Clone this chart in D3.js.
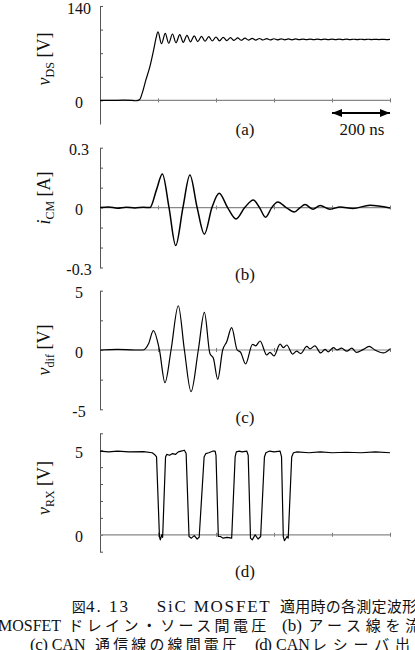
<!DOCTYPE html>
<html><head><meta charset="utf-8">
<script src="https://cdn.jsdelivr.net/npm/d3@7"></script>
<style>
body{margin:0;background:#fff;}
svg{display:block;}
text{font-family:"Liberation Serif","Noto Sans CJK JP",serif;fill:#111;}
</style>
</head><body>
<svg id="c" width="415" height="650"></svg>
<script>
// ---------- data ----------
const timeTicks = [0, 200, 400, 600, 800, 1000];

// (a) v_DS [V]
const vdsTime  = [0, 40, 80, 110, 125, 131, 138, 145, 158, 172, 185, 193, 200,
  212, 225, 237, 250, 262, 275, 287, 300, 312, 325, 337, 350, 362, 375, 387, 400,
  412, 425, 437, 450, 462, 475, 487, 500, 512, 525, 537, 550, 562, 575, 587, 600,
  612, 625, 637, 650, 662, 675, 687, 700, 712, 725, 737, 750, 762, 775, 787, 800,
  812, 825, 837, 850, 862, 875, 887, 900, 912, 925, 937, 950, 962, 975, 987, 1000];
const vdsValue = [0, 0, 0.3, 0, -0.5, 0, 2, 10, 30, 50, 75, 92, 101.5,
  84, 99.5, 84.8, 98.5, 85.5, 97.5, 86.2, 96.5, 86.8, 95.8, 87.3, 95, 87.7, 94.5, 88.1, 94,
  88.4, 93.5, 88.7, 93, 89, 92.6, 89.2, 92.3, 89.4, 92, 89.5, 91.8, 89.6, 91.6, 89.7, 91.4,
  89.8, 91.3, 89.9, 91.2, 89.9, 91.1, 90, 91, 90, 91, 90, 90.9, 90, 90.9, 90.1, 90.8,
  90.1, 90.8, 90.1, 90.8, 90.1, 90.7, 90.2, 90.7, 90.2, 90.7, 90.2, 90.6, 90.2, 90.6, 90.2, 90.5];
const vdsTickValues = [0, 35, 70, 105, 140];
const vdsTickLabels = ["140", "0"];
const vdsLabelValues = [140, 0];

// (b) i_CM [A]
const icmTime  = [0, 30, 60, 90, 120, 150, 172, 195, 215, 238, 261, 286, 310, 335, 360,
  386, 411, 440, 469, 499, 529, 550, 571, 592, 613, 642, 670, 690, 707, 734, 759, 793, 828, 872, 931, 1000];
const icmValue = [0, 0.003, -0.003, 0.002, -0.002, 0.002, 0, 0.09, 0.168, 0, -0.19, 0, 0.163, 0, -0.133,
  0, 0.072, 0, -0.057, 0, 0.038, 0, -0.048, 0, 0.028, 0, -0.022, 0, 0.015, -0.008, 0.01, -0.008, 0.003, -0.005, 0.012, -0.002];
const icmTickValues = [-0.3, -0.2, -0.1, 0, 0.1, 0.2, 0.3];
const icmTickLabels = ["0.3", "0", "-0.3"];
const icmLabelValues = [0.3, 0, -0.3];

// (c) v_dif [V]
const vdifTime  = [0, 60, 120, 149, 167, 184, 205, 224, 245, 270, 291, 314, 339, 360, 379, 391, 406,
  423, 437, 454, 473, 485, 502, 526, 537, 552, 575, 586, 600, 621, 632, 644, 664, 678, 692,
  713, 724, 741, 761, 776, 787, 805, 818, 833, 851, 868, 885, 908, 928, 948, 977, 1000];
const vdifValue = [0, 0.05, 0, 0, 0.5, 1.63, 0, -2.75, 0, 3.73, 0, -3.51, 0, 3.17, -0.3, -0.7, -2.47,
  0, 0.7, 1.88, 0, -0.2, -1.18, 0.48, 0.35, 0.76, -0.42, -0.2, -0.5, 0.5, 0.2, 0.42, -0.34, -0.1, -0.3,
  0.3, 0.1, 0.35, -0.25, 0.05, -0.15, 0.2, 0, 0.15, -0.1, 0.15, -0.2, 0.05, 0.3, 0, -0.25, 0.1];
const vdifTickValues = [-5, -2.5, 0, 2.5, 5];
const vdifTickLabels = ["5", "0", "-5"];
const vdifLabelValues = [5, 0, -5];

// (d) v_RX [V]
const vrxTime  = [0, 30, 60, 100, 150, 180, 188, 195, 205, 208, 213, 216, 226, 230, 240, 250, 260, 270, 280, 291,
  297, 307, 315, 325, 335, 342, 359, 365, 375, 390, 397, 400, 408, 415, 425, 438, 454,
  466, 470, 480, 490, 506, 511, 519, 525, 535, 545, 554, 567, 572, 585, 600, 621,
  626, 632, 636, 645, 649, 661, 667, 680, 720, 760, 800, 850, 900, 950, 1000];
const vrxValue = [4.95, 4.9, 4.95, 4.9, 4.92, 4.85, 4.75, 4.6, -0.1, -0.3, 0, -0.15, 4.6, 4.75, 4.7, 4.8, 4.75, 4.9, 4.95, 5.0,
  4.8, -0.1, -0.2, -0.05, -0.25, -0.15, 4.6, 4.8, 4.85, 4.95, 4.95, 4.7, -0.1, -0.1, -0.2, -0.15, -0.2,
  4.6, 4.9, 4.95, 4.9, 4.95, 4.7, -0.2, -0.3, 0, -0.25, -0.1, 4.6, 4.85, 4.95, 4.9, 4.95,
  4.6, -0.1, -0.35, -0.1, -0.2, 4.6, 4.85, 4.9, 4.85, 4.9, 4.85, 4.88, 4.85, 4.9, 4.85];
const vrxTickValues = [-1, 0, 1, 2, 3, 4, 5, 6];
const vrxTickLabels = ["5", "0"];
const vrxLabelValues = [5, 0];

const panelTags = ["(a)", "(b)", "(c)", "(d)"];
const scaleText = "200 ns";

// ---------- drawing ----------
const svg = d3.select("#c");
const x = d3.scaleLinear().domain([0, 1000]).range([100, 390]);

const panels = [
  {time: vdsTime, val: vdsValue, dom: [-35, 140], rng: [124, 6], ticks: vdsTickValues, lv: vdsLabelValues, lt: vdsTickLabels,
   lab: ["v", "DS", " [V]"], labY: 59, tagY: 135, curve: d3.curveMonotoneX, sw: 1.2},
  {time: icmTime, val: icmValue, dom: [-0.3, 0.3], rng: [267.5, 147.7], ticks: icmTickValues, lv: icmLabelValues, lt: icmTickLabels,
   lab: ["i", "CM", " [A]"], labY: 198, tagY: 280, curve: d3.curveMonotoneX, sw: 1.5},
  {time: vdifTime, val: vdifValue, dom: [-5, 5], rng: [409.3, 290.7], ticks: vdifTickValues, lv: vdifLabelValues, lt: vdifTickLabels,
   lab: ["v", "dif", " [V]"], labY: 350, tagY: 423, curve: d3.curveMonotoneX, sw: 1.2},
  {time: vrxTime, val: vrxValue, dom: [-1, 6], rng: [551.7, 433.3], ticks: vrxTickValues, lv: vrxLabelValues, lt: vrxTickLabels,
   lab: ["v", "RX", " [V]"], labY: 488, tagY: 577, curve: d3.curveLinear, sw: 1.2}
];

panels.forEach((p, i) => {
  const y = d3.scaleLinear().domain(p.dom).range(p.rng);
  const g = svg.append("g");
  const y0 = y(0);

  // y axis
  const ya = d3.axisRight(y).tickValues(p.ticks).tickSize(3).tickSizeOuter(0).tickFormat("");
  const yg = g.append("g").attr("transform", "translate(100,0)").call(ya);
  yg.selectAll("path,line").attr("stroke", "#555").attr("stroke-width", 1);

  // x axis along zero
  const xa = d3.axisBottom(x).tickValues(timeTicks.slice(1)).tickSize(4).tickSizeOuter(0).tickFormat("");
  const xg = g.append("g").attr("transform", `translate(0,${y0 - 2})`).call(xa);
  xg.select(".domain").remove();
  xg.selectAll("line").attr("stroke", "#777").attr("stroke-width", 1);
  g.append("line").attr("x1", x(0)).attr("x2", x(1000)).attr("y1", y0).attr("y2", y0)
    .attr("stroke", "#888").attr("stroke-width", 1.2);

  // tick labels
  g.selectAll("text.tl").data(p.lv).enter().append("text").attr("class", "tl")
    .attr("x", 79).attr("y", d => y(d) + 7.5).attr("text-anchor", "middle")
    .attr("font-size", 16).text((d, k) => p.lt[k]);

  // signal
  const line = d3.line().x((d, k) => x(p.time[k])).y(d => y(d)).curve(p.curve);
  g.append("path").attr("d", line(p.val)).attr("fill", "none")
    .attr("stroke", "#000").attr("stroke-width", p.sw).attr("stroke-linejoin", "round");

  // y label (rotated)
  const t = g.append("text").attr("transform", `translate(50,${p.labY}) rotate(-90)`)
    .attr("text-anchor", "middle").attr("font-size", 18);
  t.append("tspan").attr("font-style", "italic").text(p.lab[0]);
  t.append("tspan").attr("font-size", 12).attr("dy", 4).text(p.lab[1]);
  t.append("tspan").attr("dy", -4).text(p.lab[2]);

  // panel tag
  g.append("text").attr("x", 245).attr("y", p.tagY).attr("text-anchor", "middle")
    .attr("font-size", 17).text(panelTags[i]);
});

// 200 ns scale arrow in panel (a)
const defs = svg.append("defs");
["s", "e"].forEach(k => {
  defs.append("marker").attr("id", "ar" + k).attr("viewBox", "0 0 10 8")
    .attr("refX", k === "e" ? 10 : 0).attr("refY", 4).attr("markerWidth", 10).attr("markerHeight", 8)
    .attr("markerUnits", "userSpaceOnUse").attr("orient", "auto")
    .append("path").attr("d", k === "e" ? "M0,0L10,4L0,8Z" : "M10,0L0,4L10,8Z").attr("fill", "#000");
});
svg.append("line").attr("x1", x(800)).attr("x2", x(1000)).attr("y1", 113).attr("y2", 113)
  .attr("stroke", "#000").attr("stroke-width", 2)
  .attr("marker-start", "url(#ars)").attr("marker-end", "url(#are)");
svg.append("text").attr("x", 362).attr("y", 135).attr("text-anchor", "middle")
  .attr("font-size", 17).text(scaleText);

// caption: [baseline y, x, text, textLength, font size]
const cap = [
  [612, 71.7, "図", null, 14], [612, 86, "4. 13", 42, 17], [612, 156.7, "SiC MOSFET", 113, 17], [612, 280, "適用時の各測定波形", 137, 15],
  [631, -2, "MOSFET", null, 16], [631, 68.3, "ドレイン・ソース間電圧", 198, 15], [631, 282, "(b)", 20, 17], [631, 308.3, "アース線を流", 112, 15],
  [650, 30, "(c)", 18, 17], [650, 51.7, "CAN", null, 16], [650, 95, "通信線の線間電圧", 142, 15], [650, 255, "(d)", 17, 17], [650, 276, "CAN", null, 16], [650, 312, "レシーバ出", 98, 15]
];
cap.forEach(c => {
  const t = svg.append("text").attr("x", c[1]).attr("y", c[0]).attr("font-size", c[4]).text(c[2]);
  if (c[3]) t.attr("textLength", c[3]).attr("lengthAdjust", "spacing");
});
</script>
</body></html>
